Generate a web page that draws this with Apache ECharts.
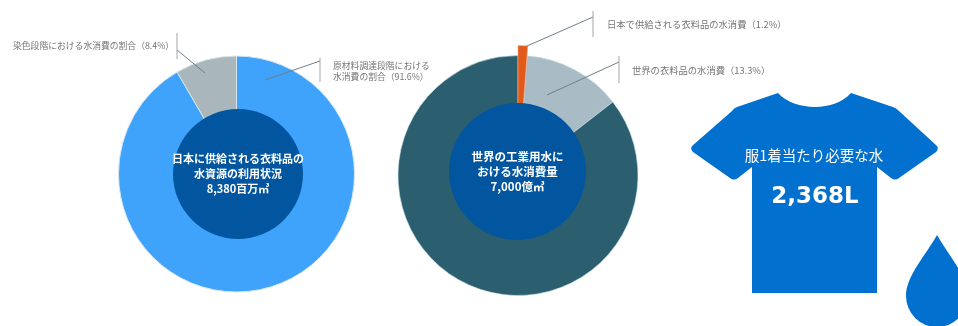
<!DOCTYPE html>
<html>
<head>
<meta charset="utf-8">
<style>html,body{margin:0;padding:0;background:#fff}#c{width:958px;height:326px}</style>
<script src="https://cdn.jsdelivr.net/npm/echarts@6/dist/echarts.min.js"></script>
</head>
<body>
<div id="c"></div>
<script>
// Water use in clothing supply: two donuts plus a per-garment callout
const japanNames = ['原材料調達段階における\n水消費の割合（91.6%）', '染色段階における水消費の割合（8.4%）'];
const japanValues = [91.6, 8.4];
const worldNames = ['日本で供給される衣料品の水消費（1.2%）', '世界の衣料品の水消費（13.3%）', 'その他の工業用水'];
const worldValues = [1.2, 13.3, 85.5];
const japanCentre = '日本に供給される衣料品の\n水資源の利用状況\n8,380百万㎥';
const worldCentre = '世界の工業用水に\nおける水消費量\n7,000億㎥';
const garmentTitle = '服1着当たり必要な水';
const garmentValue = '2,368L';

const chart = echarts.init(document.getElementById('c'), null, {renderer: 'canvas'});
const FONT = '"Noto Sans CJK JP", "Noto Sans", sans-serif';

const callout = (x, y) => ({x, y, align: 'left', verticalAlign: 'middle', hideOverlap: false});
const noteLabel = {show: true, position: 'outside', overflow: 'none', color: '#757575', lineHeight: 11, fontFamily: FONT};
const centreLabel = {show: true, position: 'center', color: '#fff', fontWeight: 'bold', lineHeight: 15, fontFamily: FONT};

const leader = (pts, tick) => [
  {type: 'polyline', silent: true, z: 20, shape: {points: pts}, style: {stroke: '#6f7f8a', lineWidth: 1, fill: null}},
  {type: 'line', silent: true, z: 20, shape: {x1: tick[0], y1: tick[1], x2: tick[0], y2: tick[2]}, style: {stroke: '#a5a5a5', lineWidth: 1}}
];

// Outline shapes for the garment and the droplet
const shirtPath = 'M778 93 C786 102 801 107 815 107 C829 107 843 102 851 93 L893 107 Q896 108 899 111 L937 146 Q939 149 936 152 L899 178 Q895 181 891 178 L877 167 L877 293 L752 293 L752 167 L738 178 Q734 181 730 178 L693 152 Q690 149 692 146 L732 111 Q734 108 737 107 Z';
const dropPath = 'M937 235 C948 255 968 276 968 296 A31 31 0 0 1 906 296 C906 276 926 255 937 235 Z';
const iconSeries = pathData => ({
  type: 'custom', coordinateSystem: 'none', silent: true, z: 10, data: [0],
  renderItem: () => ({type: 'path', shape: {pathData}, style: {fill: '#0170cf'}})
});

chart.setOption({
  animation: false,
  backgroundColor: '#fff',
  series: [
    {
      type: 'pie', center: [236.5, 174], radius: [60, 118], startAngle: 90, clockwise: true,
      labelLine: {show: false},
      label: {...noteLabel, fontSize: 8.8, formatter: '{b}'},
      itemStyle: {borderColor: '#d8e6ee', borderWidth: 1},
      data: japanNames.map((name, i) => ({
        name, value: japanValues[i],
        itemStyle: {color: ['#3fa2fb', '#a9b6bb'][i]}
      })),
      labelLayout: p => p.dataIndex === 0 ? callout(333, 71) : callout(13, 46)
    },
    {
      type: 'pie', center: [238, 174], radius: [0, 65], silent: true, z: 3,
      itemStyle: {color: '#02569f'},
      label: {...centreLabel, fontSize: 11, formatter: japanCentre},
      labelLine: {show: false},
      data: [{value: 1, name: 'japan'}]
    },
    {
      type: 'pie', center: [518, 175.5], radius: [60, 120], startAngle: 90, clockwise: true, z: 2,
      labelLine: {show: false},
      label: {...noteLabel, fontSize: 9.3, formatter: p => p.dataIndex === 2 ? '' : p.name},
      itemStyle: {borderColor: '#cfe0ea', borderWidth: 0.6},
      data: worldNames.map((name, i) => ({
        name, value: worldValues[i],
        itemStyle: {color: ['#e2591c', '#a9bcc6', '#2b5f70'][i]}
      })),
      labelLayout: p => p.dataIndex === 0 ? callout(607, 24) : p.dataIndex === 1 ? callout(632, 70) : {}
    },
    {
      // The orange slice stands proud of the ring, so it gets its own longer arc
      type: 'pie', center: [518, 175.5], radius: [60, 130], startAngle: 90, clockwise: true, z: 3, silent: true,
      label: {show: false}, labelLine: {show: false},
      data: worldValues.map((value, i) => ({
        value,
        itemStyle: i === 0 ? {color: '#e2591c', borderColor: '#f2b48a', borderWidth: 0.6} : {color: 'transparent'}
      }))
    },
    {
      type: 'pie', center: [517.5, 171.5], radius: [0, 68.5], silent: true, z: 4,
      itemStyle: {color: '#02569f'},
      label: {...centreLabel, fontSize: 11.5, formatter: worldCentre},
      labelLine: {show: false},
      data: [{value: 1, name: 'world'}]
    },
    iconSeries(shirtPath),
    iconSeries(dropPath)
  ],
  graphic: {
    elements: [
      ...leader([[177, 50], [205, 73]], [177, 33, 59]),
      ...leader([[265, 80], [320, 61]], [320, 58, 82]),
      ...leader([[527, 46], [593, 17]], [593, 11, 37]),
      ...leader([[547, 95], [619, 62]], [619, 56, 83]),
      {type: 'text', silent: true, z: 21, style: {x: 814, y: 155, text: garmentTitle, align: 'center', verticalAlign: 'middle', fill: '#fff', font: '14.5px ' + FONT}},
      {type: 'text', silent: true, z: 21, style: {x: 815, y: 197, text: garmentValue, align: 'center', verticalAlign: 'middle', fill: '#fff', font: 'bold 23px "DejaVu Sans", sans-serif'}}
    ]
  }
});
</script>
</body>
</html>
